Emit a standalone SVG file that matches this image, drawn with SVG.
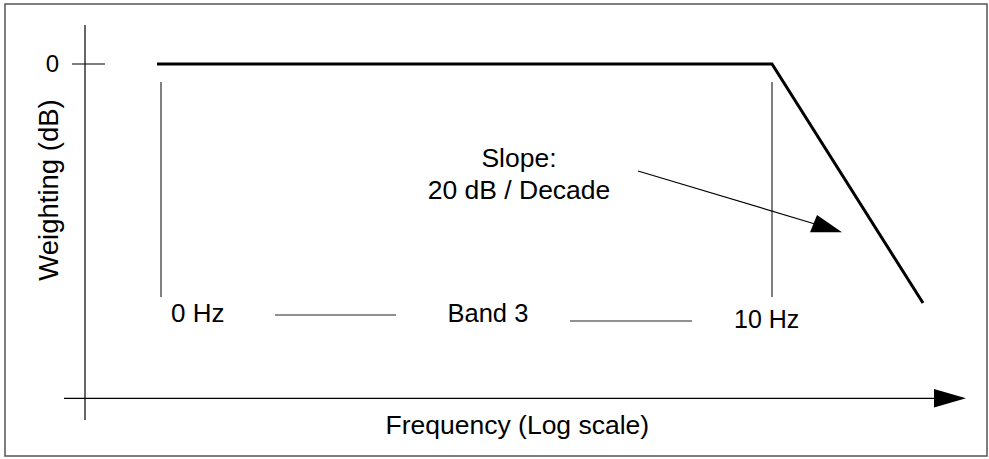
<svg xmlns="http://www.w3.org/2000/svg" width="989" height="459" viewBox="0 0 989 459">
<defs>
<style>
text { font-family: "Liberation Sans", Arial, sans-serif; fill: #000; }
.axis { stroke: #000; stroke-width: 1.2; fill: none; }
.guide { stroke: #808080; stroke-width: 2; fill: none; }
.band { stroke: #222; stroke-width: 1.2; fill: none; }
.curve { stroke: #000; stroke-width: 3; fill: none; stroke-linejoin: miter; }
</style>
</defs>
<rect x="5" y="4" width="982" height="452" fill="#fff" stroke="#555" stroke-width="1.5"/>
<g id="axes">
<line class="axis" x1="85" y1="25" x2="85" y2="420"/>
<line class="axis" x1="72" y1="64" x2="105" y2="64"/>
<line class="axis" x1="64" y1="398.3" x2="936" y2="398.3"/>
<polygon points="934,389 966,398.3 934,407.5" fill="#000"/>
</g>
<g id="labels">
<text x="59" y="72" font-size="24" text-anchor="end">0</text>
<text transform="translate(57.5,190) rotate(-90)" font-size="27.5" text-anchor="middle">Weighting (dB)</text>
<text x="385.5" y="433.5" font-size="26.5">Frequency (Log scale)</text>
</g>
<g id="curve">
<polyline class="curve" points="157,64 772,64 923,303"/>
</g>
<g id="guides">
<line class="guide" x1="161" y1="82" x2="161" y2="297"/>
<line class="guide" x1="772" y1="82" x2="772" y2="297"/>
</g>
<g id="band">
<text x="171" y="322" font-size="26">0 Hz</text>
<text x="447.5" y="322" font-size="25.5">Band 3</text>
<text x="734" y="328" font-size="25">10 Hz</text>
</g>
<g id="slope-note">
<text x="519" y="166.5" font-size="26.5" text-anchor="middle">Slope:</text>
<text x="519" y="199" font-size="26.5" text-anchor="middle">20 dB / Decade</text>
</g>
<g id="connectors">
<line class="band" x1="275" y1="315" x2="396" y2="315"/>
<line class="band" x1="570" y1="321" x2="692" y2="321"/>
<line x1="638" y1="171" x2="815" y2="224" stroke="#000" stroke-width="1.2"/>
<polygon points="817,215 842,232.3 810,232.3" fill="#000"/>
</g>
</svg>
